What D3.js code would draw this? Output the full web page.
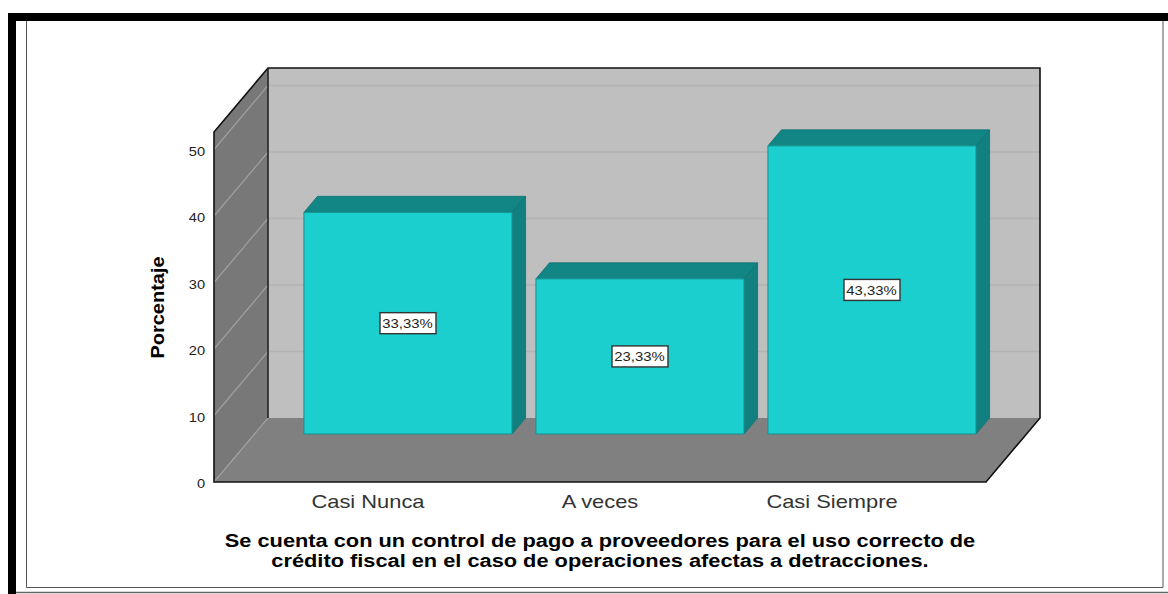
<!DOCTYPE html>
<html lang="en">
<head>
<meta charset="UTF-8">
<script src="https://d3js.org/d3.v7.min.js"></script>
<style>
  html, body { margin: 0; background: #fff; overflow: hidden; }
  svg { display: block; font-family: "Liberation Sans", Arial, sans-serif; }
  .tick-y text { font-size: 13.5px; fill: #222; }
  .cat { font-size: 19px; fill: #333; text-anchor: middle; }
  .chart-title { font-size: 18px; font-weight: bold; fill: #000; text-anchor: middle; }
  .y-title { font-size: 17.5px; font-weight: bold; fill: #000; text-anchor: middle; }
  .bar-label { font-size: 13.5px; fill: #222; text-anchor: middle; }
</style>
</head>
<body>
<script>
// chart data
var categories = ["Casi Nunca", "A veces", "Casi Siempre"];
var values = [33.33, 23.33, 43.33];
var valueLabels = ["33,33%", "23,33%", "43,33%"];
var yTicks = [0, 10, 20, 30, 40, 50];
var titleLines = [
  "Se cuenta con un control de pago a proveedores para el uso correcto de",
  "crédito fiscal en el caso de operaciones afectas a detracciones."
];

var width = 1168, height = 594;

// the original picture is stretched sideways, so text runs wider than its height
var textStretch = 1.21;

// 3d box: front plane corners and how far the back wall is shifted
var front = {left: 214, right: 986, bottom: 482, top: 132};
var depth = {x: 54, y: -64};
var barBase = {x: 40, y: -48};   // bars stand towards the back of the floor
var barDepth = {x: 13.5, y: -16};

var yscale = d3.scaleLinear().domain([0, 52.63]).range([front.bottom, front.top]);

var xscale = d3.scaleBand()
  .domain(categories)
  .range([252, 948])
  .paddingInner(0.103)
  .paddingOuter(0.0515);

var svg = d3.select("body").append("svg")
  .attr("width", width)
  .attr("height", height);

function poly(points, fill, stroke, sw) {
  return svg.append("path")
    .attr("d", "M" + points.map(function(p) { return p.join(","); }).join("L") + "Z")
    .attr("fill", fill)
    .attr("stroke", stroke || "none")
    .attr("stroke-width", sw || 0);
}

// widen a text by a factor, keeps its anchor
function stretch(sel, factor) {
  sel.each(function() {
    var len = this.getComputedTextLength();
    d3.select(this)
      .attr("textLength", len * factor)
      .attr("lengthAdjust", "spacingAndGlyphs");
  });
}

// outer picture frame
svg.append("rect").attr("x", 8).attr("y", 13).attr("width", 1160).attr("height", 8).attr("fill", "#000");
svg.append("rect").attr("x", 8).attr("y", 13).attr("width", 8).attr("height", 581).attr("fill", "#000");
svg.append("path")
  .attr("d", "M26.5,21V587.5H1163V21")
  .attr("fill", "none").attr("stroke", "#555").attr("stroke-width", 1);
svg.append("path")
  .attr("d", "M16,592.5H1168")
  .attr("fill", "none").attr("stroke", "#666").attr("stroke-width", 1.5);

// walls and floor
var fl = front.left, fr = front.right, fb = front.bottom, ft = front.top;
poly([[fl + depth.x, ft + depth.y], [fr + depth.x, ft + depth.y], [fr + depth.x, fb + depth.y], [fl + depth.x, fb + depth.y]], "#bfbfbf");
poly([[fl, fb], [fl, ft], [fl + depth.x, ft + depth.y], [fl + depth.x, fb + depth.y]], "#787878");
poly([[fl, fb], [fl + depth.x, fb + depth.y], [fr + depth.x, fb + depth.y], [fr, fb]], "#808080");

// gridlines on side and back wall
var grid = svg.append("g");
yTicks.forEach(function(t) {
  var y = yscale(t);
  grid.append("line")
    .attr("x1", fl).attr("y1", y).attr("x2", fl + depth.x).attr("y2", y + depth.y)
    .attr("stroke", "#a0a0a0").attr("stroke-width", 1.2);
  if (t > 0) {
    grid.append("line")
      .attr("x1", fl + depth.x).attr("y1", y + depth.y).attr("x2", fr + depth.x).attr("y2", y + depth.y)
      .attr("stroke", "#b3b3b3").attr("stroke-width", 1.3);
  }
});

// black outline of the box
svg.append("path")
  .attr("d", "M" + [[fl, fb], [fl, ft], [fl + depth.x, ft + depth.y], [fr + depth.x, ft + depth.y], [fr + depth.x, fb + depth.y], [fr, fb]].map(function(p) { return p.join(","); }).join("L") + "Z")
  .attr("fill", "none").attr("stroke", "#111").attr("stroke-width", 1.6);
svg.append("line")
  .attr("x1", fl + depth.x).attr("y1", ft + depth.y).attr("x2", fl + depth.x).attr("y2", fb + depth.y)
  .attr("stroke", "#222").attr("stroke-width", 1.6);

// bars
categories.forEach(function(c, i) {
  var x0 = xscale(c) + barBase.x,
      x1 = x0 + xscale.bandwidth(),
      y0 = yscale(0) + barBase.y,
      y1 = yscale(values[i]) + barBase.y,
      dx = barDepth.x, dy = barDepth.y;

  poly([[x0, y1], [x0 + dx, y1 + dy], [x1 + dx, y1 + dy], [x1, y1]], "#128585", "#0f7272", 0.8);
  poly([[x1, y1], [x1 + dx, y1 + dy], [x1 + dx, y0 + dy], [x1, y0]], "#128080", "#0f7272", 0.8);
  poly([[x0, y1], [x1, y1], [x1, y0], [x0, y0]], "#1ccfcf", "#178f8f", 1);

  // value label box
  var cx = (x0 + x1) / 2, cy = (y0 + y1) / 2;
  svg.append("rect")
    .attr("x", cx - 28).attr("y", cy - 10.5).attr("width", 56).attr("height", 21)
    .attr("fill", "#fff").attr("stroke", "#333").attr("stroke-width", 1.4);
  svg.append("text").attr("class", "bar-label")
    .attr("x", cx - 0.5).attr("y", cy + 5)
    .text(valueLabels[i])
    .call(stretch, 1.1);

  svg.append("text").attr("class", "cat")
    .attr("x", xscale(c) + xscale.bandwidth() / 2).attr("y", 507.5)
    .text(c)
    .call(stretch, 1.15);
});

// y axis
var yAxis = svg.append("g")
  .attr("class", "tick-y")
  .attr("transform", "translate(" + fl + ",0)")
  .call(d3.axisLeft(yscale).tickValues(yTicks).tickSize(0).tickPadding(9));
yAxis.select(".domain").remove();
yAxis.selectAll("text").attr("dy", "0.42em").call(stretch, 1.08);

svg.append("text").attr("class", "y-title")
  .attr("transform", "translate(164,307.5)rotate(-90)")
  .text("Porcentaje")
  .call(stretch, 1.14);

// title under the chart
titleLines.forEach(function(t, i) {
  svg.append("text").attr("class", "chart-title")
    .attr("x", 600).attr("y", 546.5 + i * 20.5)
    .text(t)
    .call(stretch, textStretch);
});
</script>
</body>
</html>
